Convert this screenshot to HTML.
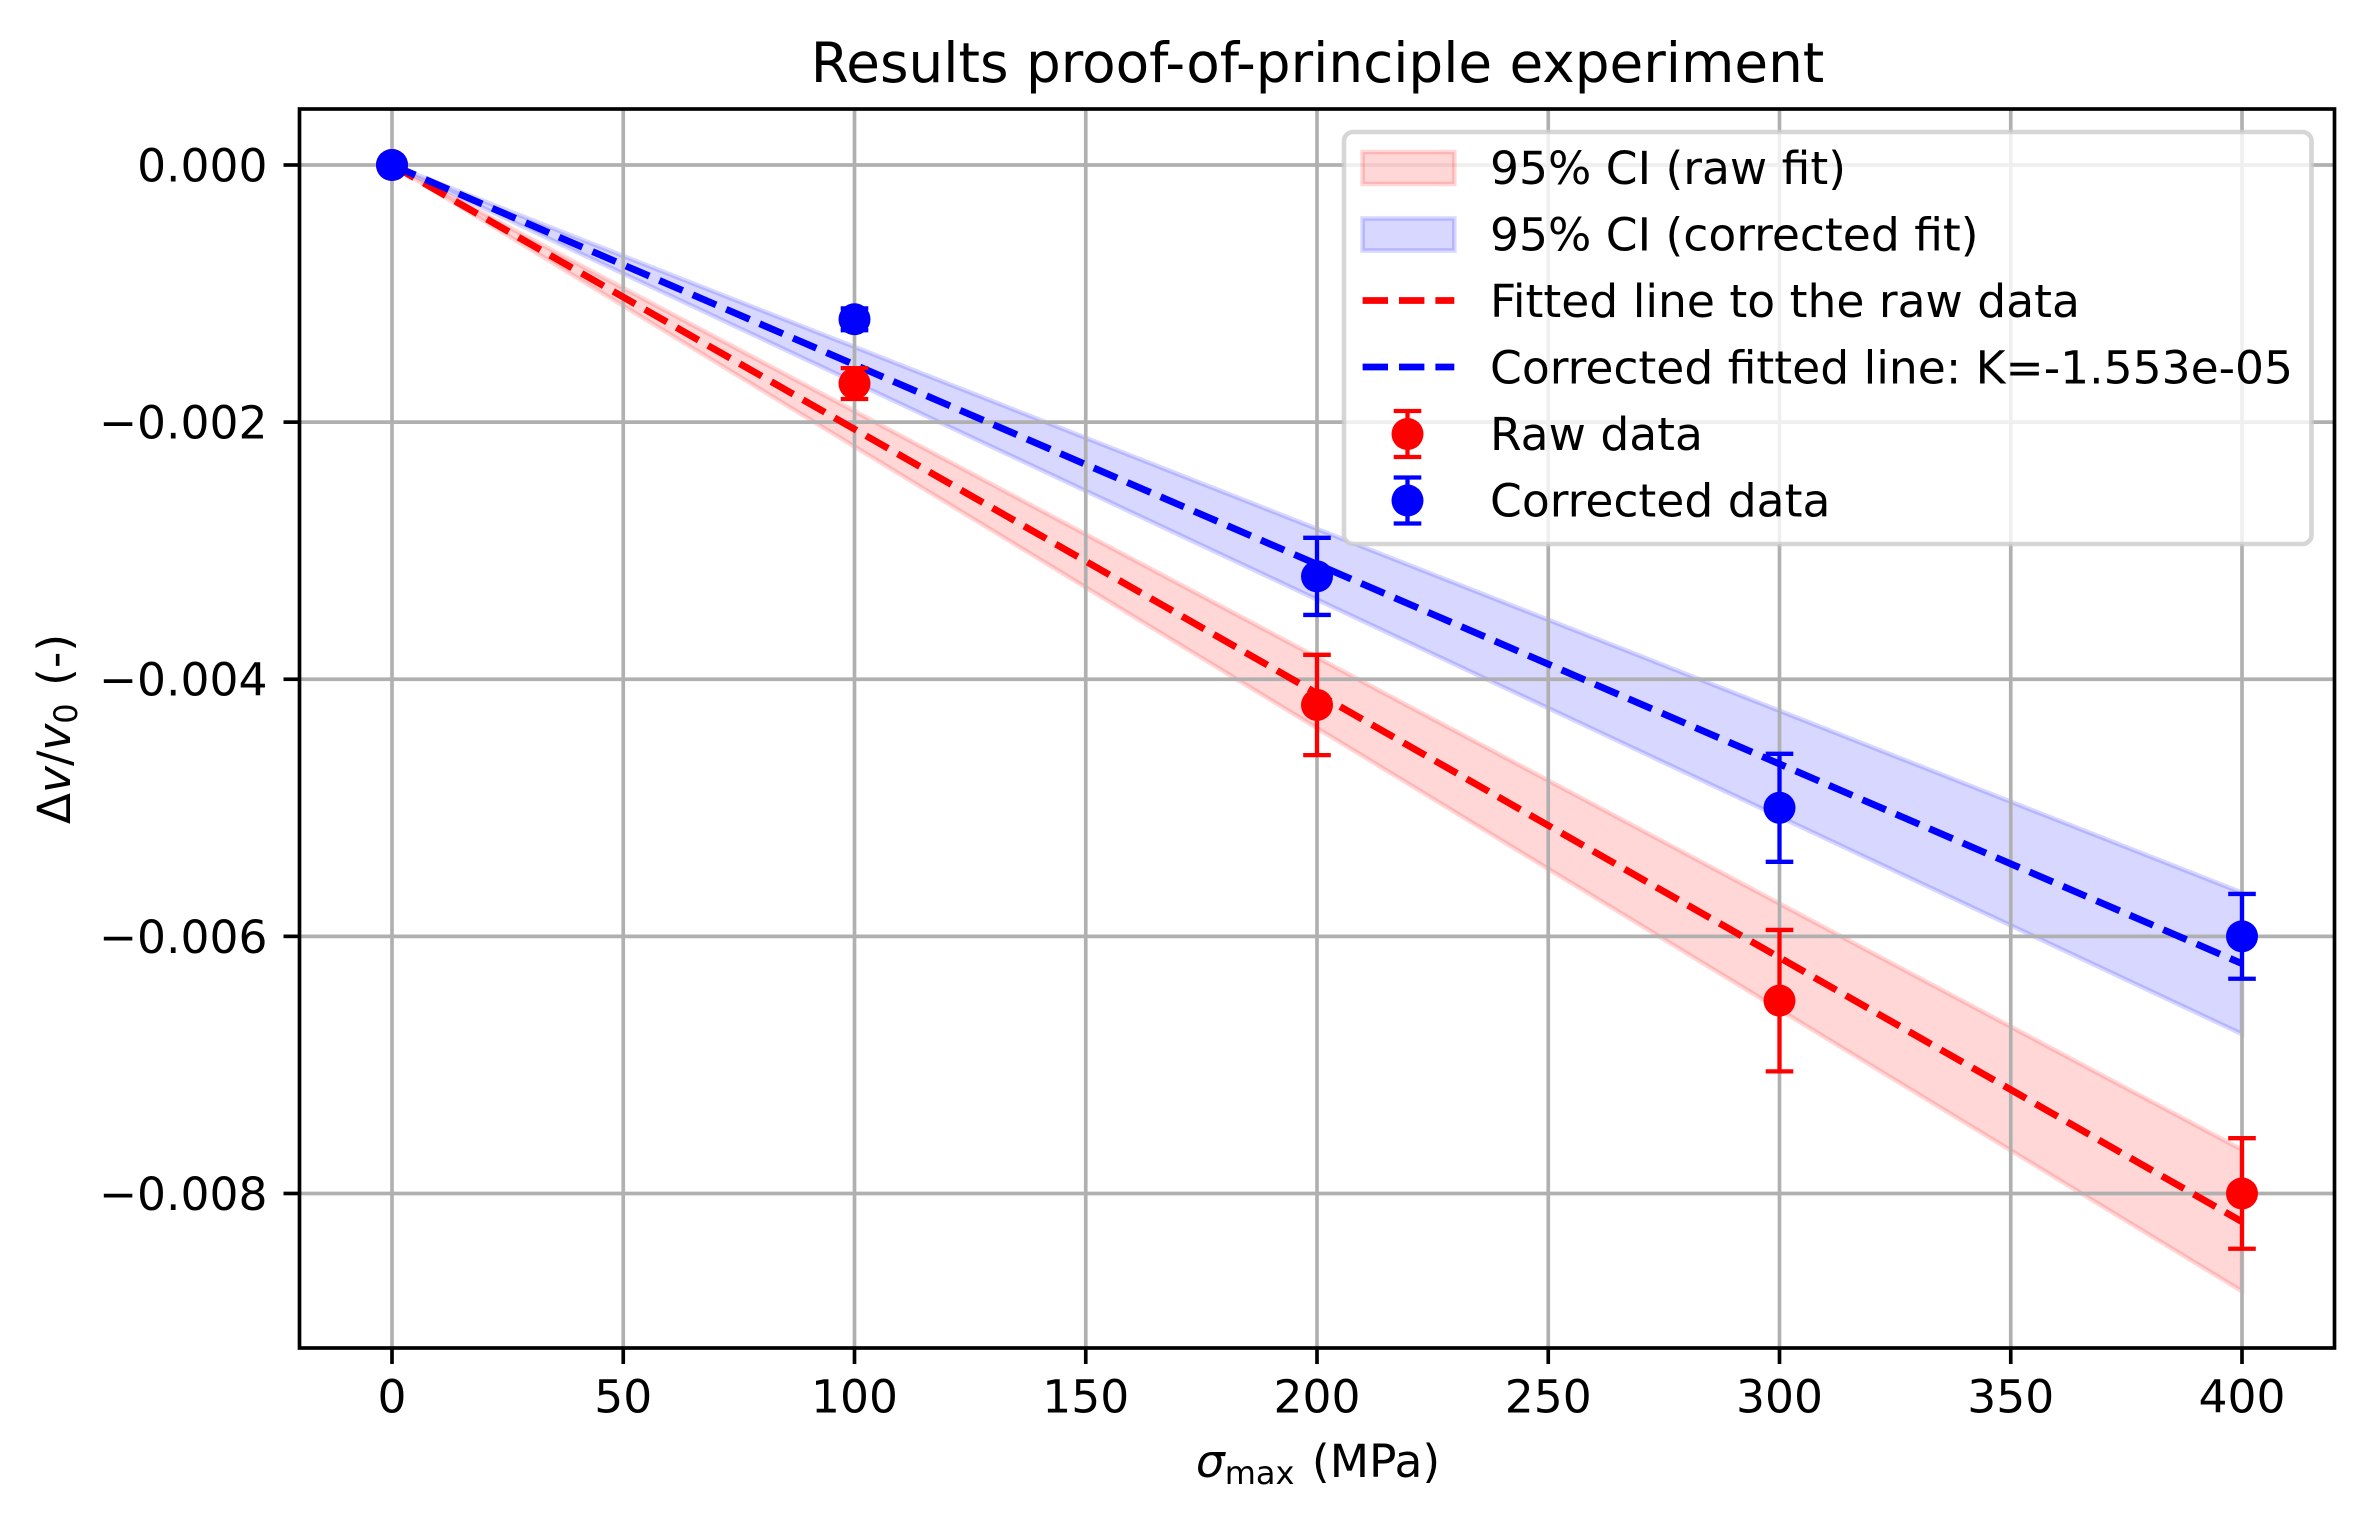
<!DOCTYPE html>
<html lang="en">
<head>
<meta charset="utf-8">
<title>Results proof-of-principle experiment</title>
<style>
html,body{margin:0;padding:0;background:#fff;}
svg{display:block;}
text{font-family:"DejaVu Sans","Liberation Sans",sans-serif;fill:#000;}
</style>
</head>
<body>
<svg id="chart" xmlns="http://www.w3.org/2000/svg" width="2367" height="1518" viewBox="0 0 2367 1518">
  <rect x="0" y="0" width="2367" height="1518" fill="#fff"/>
  <g id="bands"></g>
  <g id="grid"></g>
  <g id="fits"></g>
  <g id="points"></g>
  <rect x="299.5" y="109" width="2035" height="1239" fill="none" stroke="#000" stroke-width="3.67"/>
  <g id="ticks" font-size="45.57"></g>

  <text x="1317.5" y="82" font-size="54.8" text-anchor="middle">Results proof-of-principle experiment</text>
  <text x="1318" y="1477" font-size="45.57" text-anchor="middle"><tspan font-style="italic">σ</tspan><tspan font-size="32" dy="7">max</tspan><tspan dy="-7" dx="3"> (MPa)</tspan></text>
  <text transform="translate(70 729) rotate(-90)" font-size="45.57" text-anchor="middle">Δ<tspan font-style="italic">v</tspan>/<tspan font-style="italic">v</tspan><tspan font-size="32" dy="7">0</tspan><tspan dy="-7" dx="3"> (-)</tspan></text>

  <g>
    <rect x="1344" y="132" width="967.5" height="412" rx="9" ry="9" fill="#fff" fill-opacity="0.8" stroke="#ccc" stroke-opacity="0.8" stroke-width="4.58"/>
    <g>
      <rect x="1362.6" y="152" width="91.7" height="32" fill="#f00" fill-opacity="0.155" stroke="#f00" stroke-opacity="0.155" stroke-width="4.58"/>
      <text x="1490" y="184" font-size="45.57">95% CI (raw fit)</text>
    </g>
    <g>
      <rect x="1362.6" y="218.5" width="91.7" height="32" fill="#00f" fill-opacity="0.155" stroke="#00f" stroke-opacity="0.155" stroke-width="4.58"/>
      <text x="1490" y="250.5" font-size="45.57">95% CI (corrected fit)</text>
    </g>
    <g>
      <line x1="1362.6" x2="1454.3" y1="300.5" y2="300.5" stroke="#f00" stroke-width="6.87" stroke-dasharray="25.4 11"/>
      <text x="1490" y="317" font-size="45.57">Fitted line to the raw data</text>
    </g>
    <g>
      <line x1="1362.6" x2="1454.3" y1="367" y2="367" stroke="#00f" stroke-width="6.87" stroke-dasharray="25.4 11"/>
      <text x="1490" y="383.5" font-size="45.57">Corrected fitted line: K=-1.553e-05</text>
    </g>
    <g>
      <g stroke="#f00" stroke-width="4.3" fill="#f00">
        <line x1="1407.5" x2="1407.5" y1="411" y2="457"/>
        <line x1="1393.7" x2="1421.3" y1="411" y2="411"/>
        <line x1="1393.7" x2="1421.3" y1="457" y2="457"/>
        <circle cx="1407.5" cy="434" r="16" stroke="none"/>
      </g>
      <text x="1490" y="450" font-size="45.57">Raw data</text>
    </g>
    <g>
      <g stroke="#00f" stroke-width="4.3" fill="#00f">
        <line x1="1407.5" x2="1407.5" y1="477.5" y2="523.5"/>
        <line x1="1393.7" x2="1421.3" y1="477.5" y2="477.5"/>
        <line x1="1393.7" x2="1421.3" y1="523.5" y2="523.5"/>
        <circle cx="1407.5" cy="500.5" r="16" stroke="none"/>
      </g>
      <text x="1490" y="516.5" font-size="45.57">Corrected data</text>
    </g>
  </g>
</svg>
<script>
var sigmaValues = [0, 100, 200, 300, 400];
var rawData = [0, -0.0017, -0.0042, -0.0065, -0.008];
var rawError = [0, 0.00012, 0.00039, 0.00055, 0.00043];
var correctedData = [0, -0.0012, -0.0032, -0.005, -0.006];
var correctedError = [0, 0.000085, 0.0003, 0.00042, 0.00033];
var rawFit = [0, -0.002055, -0.00411, -0.006165, -0.00822];
var correctedFit = [0, -0.001553, -0.003106, -0.004659, -0.006212];
var rawCiUpper = [0, -0.001915, -0.00383, -0.005745, -0.00766];
var rawCiLower = [0, -0.00219, -0.00438, -0.00657, -0.00876];
var correctedCiUpper = [0, -0.001415, -0.00283, -0.004245, -0.00566];
var correctedCiLower = [0, -0.00169, -0.00338, -0.00507, -0.00676];
var xTickValues = [0, 50, 100, 150, 200, 250, 300, 350, 400];
var xTickLabels = ['0', '50', '100', '150', '200', '250', '300', '350', '400'];
var yTickValues = [0, -0.002, -0.004, -0.006, -0.008];
var yTickLabels = ['0.000', '\u22120.002', '\u22120.004', '\u22120.006', '\u22120.008'];

var NS = 'http://www.w3.org/2000/svg';
var AX_LEFT = 299.5, AX_RIGHT = 2334.5, AX_TOP = 109, AX_BOTTOM = 1348;
var X_MIN = -20, X_MAX = 420;
var Y_AT_ZERO = 165, PX_PER_UNIT_Y = 128560;

function xScale(v) {
  return AX_LEFT + (v - X_MIN) * (AX_RIGHT - AX_LEFT) / (X_MAX - X_MIN);
}
function yScale(v) {
  return Y_AT_ZERO - v * PX_PER_UNIT_Y;
}
function make(tag, parent, attrs) {
  var el = document.createElementNS(NS, tag);
  for (var k in attrs) { el.setAttribute(k, attrs[k]); }
  parent.appendChild(el);
  return el;
}

var bandsLayer = document.getElementById('bands');
var gridLayer = document.getElementById('grid');
var fitsLayer = document.getElementById('fits');
var pointsLayer = document.getElementById('points');
var ticksLayer = document.getElementById('ticks');

function drawBand(upper, lower, color, name) {
  var pts = [];
  for (var i = 0; i < sigmaValues.length; i++) {
    pts.push(xScale(sigmaValues[i]) + ',' + yScale(upper[i]));
  }
  for (var j = sigmaValues.length - 1; j >= 0; j--) {
    pts.push(xScale(sigmaValues[j]) + ',' + yScale(lower[j]));
  }
  var el = make('polygon', bandsLayer, {
    points: pts.join(' '), fill: color, 'fill-opacity': 0.155,
    stroke: color, 'stroke-opacity': 0.155, 'stroke-width': 4.58
  });
  
  
}
drawBand(rawCiUpper, rawCiLower, '#f00', 'band-raw-ci');
drawBand(correctedCiUpper, correctedCiLower, '#00f', 'band-corrected-ci');

xTickValues.forEach(function (v, i) {
  var px = xScale(v);
  var g = make('line', gridLayer, {x1: px, x2: px, y1: AX_TOP, y2: AX_BOTTOM, stroke: '#b0b0b0', 'stroke-width': 3.67});
  
  
  var t = make('line', ticksLayer, {x1: px, x2: px, y1: AX_BOTTOM, y2: AX_BOTTOM + 16, stroke: '#000', 'stroke-width': 3.67});
  
  
  var l = make('text', ticksLayer, {x: px, y: 1412.5, 'text-anchor': 'middle'});
  l.textContent = xTickLabels[i];
  
  
});
yTickValues.forEach(function (v, i) {
  var py = yScale(v);
  var g = make('line', gridLayer, {x1: AX_LEFT, x2: AX_RIGHT, y1: py, y2: py, stroke: '#b0b0b0', 'stroke-width': 3.67});
  
  
  var t = make('line', ticksLayer, {x1: AX_LEFT - 16, x2: AX_LEFT, y1: py, y2: py, stroke: '#000', 'stroke-width': 3.67});
  
  
  var l = make('text', ticksLayer, {x: 267.5, y: py + 16.5, 'text-anchor': 'end'});
  l.textContent = yTickLabels[i];
  
  
});

function drawFit(values, color, name) {
  var pts = sigmaValues.map(function (s, i) { return xScale(s) + ',' + yScale(values[i]); });
  var el = make('polyline', fitsLayer, {
    points: pts.join(' '), fill: 'none', stroke: color, 'stroke-width': 6.87, 'stroke-dasharray': '25.4 11'
  });
  
  
}
drawFit(rawFit, '#f00', 'fit-line-raw');
drawFit(correctedFit, '#00f', 'fit-line-corrected');

function drawPoints(values, errors, color, name) {
  sigmaValues.forEach(function (s, i) {
    var px = xScale(s), lo = yScale(values[i] - errors[i]), hi = yScale(values[i] + errors[i]);
    var g = make('g', pointsLayer, {stroke: color, 'stroke-width': 4.3, fill: color});
    
    
    make('line', g, {x1: px, x2: px, y1: hi, y2: lo});
    make('line', g, {x1: px - 13.8, x2: px + 13.8, y1: hi, y2: hi});
    make('line', g, {x1: px - 13.8, x2: px + 13.8, y1: lo, y2: lo});
    make('circle', g, {cx: px, cy: yScale(values[i]), r: 16, stroke: 'none'});
  });
}
drawPoints(rawData, rawError, '#f00', 'point-raw');
drawPoints(correctedData, correctedError, '#00f', 'point-corrected');
</script>
</body>
</html>
